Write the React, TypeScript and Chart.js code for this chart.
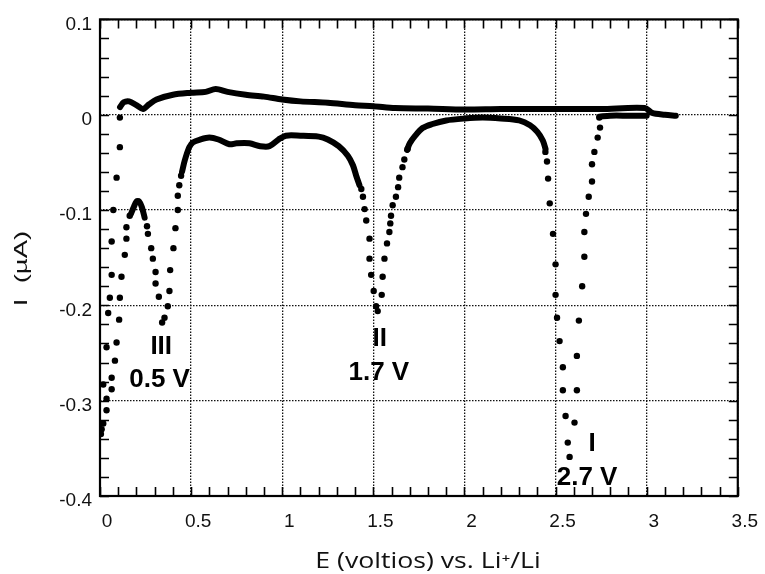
import React, { useEffect, useRef } from 'react';
import { Chart, registerables } from 'chart.js';

Chart.register(...registerables);

type Pt = [number, number];

// Axis ticks (E in V vs. Li+/Li, I in µA)
const xTickValues = [0, 0.5, 1, 1.5, 2, 2.5, 3, 3.5];
const yTickValues = [-0.4, -0.3, -0.2, -0.1, 0, 0.1];

// Anodic (return) sweep, densely sampled trace
const anodicSweep: Pt[] = [
  [0.11, 0.008], [0.13, 0.013], [0.16, 0.014], [0.2, 0.01], [0.236, 0.006],
  [0.27, 0.011], [0.31, 0.016], [0.4, 0.021], [0.5, 0.023], [0.58, 0.024],
  [0.635, 0.027], [0.7, 0.024], [0.8, 0.021], [0.9, 0.019], [1.0, 0.016],
  [1.1, 0.014], [1.25, 0.0125], [1.4, 0.01], [1.5, 0.009], [1.62, 0.007],
  [1.8, 0.0065], [2.0, 0.0055], [2.2, 0.006], [2.5, 0.006], [2.75, 0.006],
  [2.99, 0.007], [3.03, 0.002], [3.1, 0.0], [3.16, -0.001],
];

// Cathodic sweep, slow (dense) stretches
const cathodicStart: Pt[] = [
  [3.0, -0.001], [2.9, -0.001], [2.8, -0.001], [2.74, -0.002],
];
const cathodicUpper: Pt[] = [
  [2.445, -0.036], [2.43, -0.027], [2.4, -0.018], [2.36, -0.011], [2.3, -0.006],
  [2.2, -0.004], [2.1, -0.003], [2.0, -0.004], [1.9, -0.006], [1.82, -0.01],
  [1.77, -0.014], [1.73, -0.022], [1.7, -0.03], [1.685, -0.037],
];
const cathodicPlateau: Pt[] = [
  [1.424, -0.074], [1.406, -0.064], [1.388, -0.053], [1.36, -0.043], [1.31, -0.033],
  [1.25, -0.026], [1.2, -0.023], [1.1, -0.022], [1.02, -0.022], [0.98, -0.026],
  [0.93, -0.033], [0.88, -0.033], [0.82, -0.03], [0.75, -0.03], [0.71, -0.031],
  [0.65, -0.026], [0.6, -0.024], [0.55, -0.026], [0.51, -0.029], [0.49, -0.034],
  [0.465, -0.048], [0.45, -0.06],
];
const peakIIIApex: Pt[] = [
  [0.245, -0.108], [0.23, -0.097], [0.215, -0.091], [0.2, -0.091], [0.185, -0.097],
  [0.17, -0.104],
];

// Cathodic sweep, fast stretches (individual samples)
const peakIDots: Pt[] = [
  [2.74, -0.003], [2.744, -0.0135], [2.731, -0.024], [2.713, -0.039], [2.7, -0.052],
  [2.7, -0.07], [2.682, -0.086], [2.667, -0.104], [2.658, -0.123], [2.658, -0.149],
  [2.646, -0.18], [2.628, -0.216], [2.617, -0.253], [2.617, -0.289], [2.604, -0.323],
  [2.577, -0.359], [2.567, -0.344], [2.555, -0.316], [2.54, -0.289], [2.54, -0.265],
  [2.522, -0.2375], [2.508, -0.213], [2.5, -0.189], [2.5, -0.157], [2.486, -0.125],
  [2.468, -0.093], [2.459, -0.067], [2.453, -0.049], [2.444, -0.039],
];
const peakIIDots: Pt[] = [
  [1.688, -0.036], [1.67, -0.047], [1.66, -0.055], [1.642, -0.066], [1.636, -0.076],
  [1.624, -0.086], [1.606, -0.095], [1.597, -0.106], [1.593, -0.114], [1.588, -0.123],
  [1.575, -0.135], [1.561, -0.151], [1.551, -0.17], [1.546, -0.189], [1.524, -0.206],
  [1.515, -0.201], [1.502, -0.185], [1.488, -0.168], [1.479, -0.151], [1.479, -0.13],
  [1.461, -0.111], [1.452, -0.099], [1.443, -0.086], [1.434, -0.078],
];
const peakIIIDots: Pt[] = [
  [0.445, -0.064], [0.435, -0.074], [0.427, -0.085], [0.427, -0.1], [0.414, -0.119],
  [0.403, -0.14], [0.385, -0.163], [0.381, -0.185], [0.372, -0.201], [0.354, -0.213],
  [0.341, -0.218], [0.323, -0.191], [0.305, -0.177], [0.305, -0.165], [0.29, -0.151],
  [0.281, -0.14], [0.263, -0.125], [0.258, -0.117],
  [0.163, -0.106], [0.145, -0.118], [0.145, -0.13], [0.136, -0.147], [0.118, -0.17],
  [0.109, -0.192], [0.105, -0.215], [0.091, -0.239], [0.082, -0.258], [0.064, -0.276],
  [0.064, -0.288], [0.036, -0.298], [0.036, -0.31], [0.018, -0.324], [0.009, -0.33],
  [0.005, -0.335], [0.018, -0.283], [0.036, -0.244], [0.045, -0.208], [0.054, -0.192],
  [0.064, -0.168], [0.064, -0.133], [0.073, -0.1], [0.091, -0.066], [0.109, -0.034],
  [0.109, -0.003],
];

// Peak annotations: numeral, reduction potential and where each is written (E, I)
const peakNames = ['I', 'II', 'III'];
const peakNameE = [2.7, 1.535, 0.336];
const peakNameI = [-0.345, -0.235, -0.243];
const peakPotentials = ['2.7 V', '1.7 V', '0.5 V'];
const peakPotentialE = [2.673, 1.53, 0.327];
const peakPotentialI = [-0.381, -0.271, -0.278];

const xTitle = 'E (voltios) vs. Li\u207A/Li';
const yTitle = 'I  (\u00B5A)';

const toXY = (pts: Pt[]) => pts.map(([x, y]) => ({ x, y }));
const fmt = (v: number) => String(Math.round(v * 10) / 10);

const tickFont = { family: '"Liberation Sans", Arial, sans-serif', size: 19 };

const frameAndTicks = {
  id: 'frameAndTicks',
  afterDraw(chart: any) {
    const { ctx, chartArea: a, scales } = chart;
    const sx = scales.x;
    const sy = scales.y;
    ctx.save();
    ctx.strokeStyle = '#000';
    ctx.lineWidth = 1.6;
    ctx.beginPath();
    for (let i = 0; i <= 35; i++) {
      const px = Math.round(sx.getPixelForValue(i / 10)) + 0.5;
      ctx.moveTo(px, a.bottom);
      ctx.lineTo(px, a.bottom - 9);
      ctx.moveTo(px, a.top);
      ctx.lineTo(px, a.top + 9);
    }
    for (let i = 0; i <= 25; i++) {
      const py = Math.round(sy.getPixelForValue(-0.4 + i * 0.02)) + 0.5;
      ctx.moveTo(a.left, py);
      ctx.lineTo(a.left + 9, py);
      ctx.moveTo(a.right, py);
      ctx.lineTo(a.right - 9, py);
    }
    ctx.stroke();
    ctx.lineWidth = 2.2;
    ctx.strokeRect(a.left, a.top, a.right - a.left, a.bottom - a.top);

    // axis titles
    ctx.fillStyle = '#111';
    ctx.textAlign = 'center';
    ctx.textBaseline = 'alphabetic';
    ctx.font = '21px "Open Sans", "Liberation Sans", sans-serif';
    ctx.save();
    ctx.translate(428, 567.5);
    ctx.scale(1.27, 1);
    ctx.fillText(xTitle, 0, 0);
    ctx.restore();

    ctx.font = '19px "Liberation Sans", Arial, sans-serif';
    ctx.textBaseline = 'middle';
    ctx.save();
    ctx.translate(22, 268.5);
    ctx.rotate(-Math.PI / 2);
    ctx.scale(1.45, 1);
    ctx.fillText(yTitle, 0, 0);
    ctx.restore();
    ctx.restore();
  },
};

const peakLabels = {
  id: 'peakLabels',
  afterDatasetsDraw(chart: any) {
    const { ctx, scales } = chart;
    ctx.save();
    ctx.fillStyle = '#000';
    ctx.textAlign = 'center';
    ctx.textBaseline = 'middle';
    ctx.font = 'bold 26px "Liberation Sans", Arial, sans-serif';
    peakNames.forEach((name, i) => {
      ctx.fillText(name, scales.x.getPixelForValue(peakNameE[i]), scales.y.getPixelForValue(peakNameI[i]));
      ctx.fillText(
        peakPotentials[i],
        scales.x.getPixelForValue(peakPotentialE[i]),
        scales.y.getPixelForValue(peakPotentialI[i]),
      );
    });
    ctx.restore();
  },
};

export default function App() {
  const canvasRef = useRef<HTMLCanvasElement | null>(null);

  useEffect(() => {
    if (!canvasRef.current) return;
    const line = (pts: Pt[]) => ({
      data: toXY(pts),
      showLine: true,
      borderColor: '#000',
      borderWidth: 6,
      borderCapStyle: 'round' as const,
      borderJoinStyle: 'round' as const,
      pointRadius: 0,
      tension: 0.3,
    });
    const dots = (pts: Pt[]) => ({
      data: toXY(pts),
      showLine: false,
      pointRadius: 3.2,
      pointBackgroundColor: '#000',
      pointBorderWidth: 0,
    });

    const chart = new Chart(canvasRef.current, {
      type: 'scatter',
      data: {
        datasets: [
          line(anodicSweep),
          line(cathodicStart),
          line(cathodicUpper),
          line(cathodicPlateau),
          line(peakIIIApex),
          dots(peakIDots),
          dots(peakIIDots),
          dots(peakIIIDots),
        ],
      },
      options: {
        animation: false,
        responsive: false,
        layout: { padding: { top: 16, right: 22, left: 0, bottom: 0 } },
        plugins: { legend: { display: false }, tooltip: { enabled: false } },
        scales: {
          x: {
            type: 'linear',
            min: 0,
            max: 3.5,
            afterBuildTicks: (s: any) => {
              s.ticks = xTickValues.map((value) => ({ value }));
            },
            afterFit: (s: any) => {
              s.height = 78;
            },
            ticks: {
              labelOffset: 7,
              padding: 14,
              font: tickFont,
              color: '#111',
              maxRotation: 0,
              callback: (v: any) => fmt(Number(v)),
            },
            grid: { color: '#111', lineWidth: 1.3, drawTicks: false },
            border: { display: false, dash: [1.5, 1.5] },
          },
          y: {
            type: 'linear',
            min: -0.4,
            max: 0.1,
            afterBuildTicks: (s: any) => {
              s.ticks = yTickValues.map((value) => ({ value }));
            },
            afterFit: (s: any) => {
              s.width = 100;
            },
            ticks: {
              labelOffset: 5,
              padding: 8,
              font: tickFont,
              color: '#111',
              callback: (v: any) => fmt(Number(v)),
            },
            grid: { color: '#111', lineWidth: 1.3, drawTicks: false },
            border: { display: false, dash: [1.5, 1.5] },
          },
        },
      },
      plugins: [peakLabels, frameAndTicks],
    });
    return () => chart.destroy();
  }, []);

  return (
    <div style={{ position: 'fixed', left: 0, top: 0, width: 765, height: 574, background: '#fff' }}>
      <canvas ref={canvasRef} width={765} height={574} style={{ display: 'block' }} />
    </div>
  );
}
